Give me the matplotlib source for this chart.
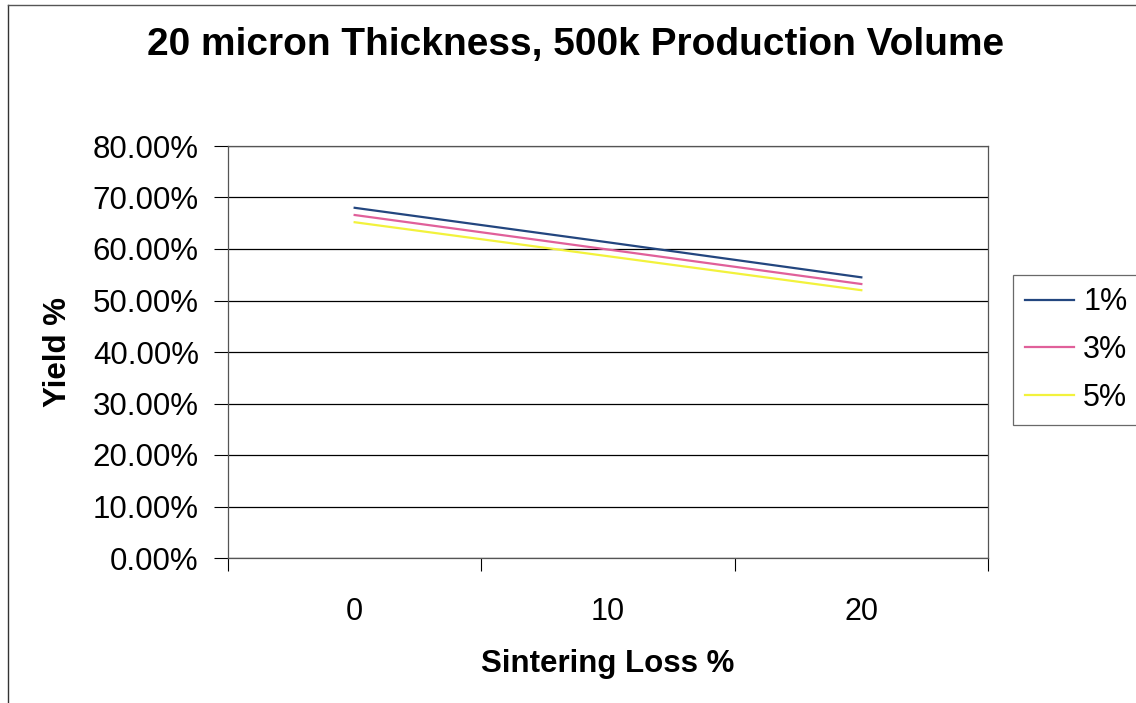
import matplotlib.pyplot as plt
from matplotlib.ticker import FuncFormatter
from matplotlib.lines import Line2D
import numpy as np

plt.rcParams['font.family'] = ['Liberation Sans', 'DejaVu Sans']

# sintering loss categories and yield for each defect rate
sintering_loss = ['0', '10', '20']
series_names = ['1%', '3%', '5%']
yield_1 = [0.680, 0.613, 0.545]
yield_3 = [0.666, 0.599, 0.532]
yield_5 = [0.652, 0.586, 0.520]
colors = ['#23467f', '#e0609a', '#f2f23c']

fig = plt.figure(figsize=(11.36, 7.03), dpi=100)
ax = fig.add_axes([228/1136, 1 - 558/703, 760/1136, 412/703])

xs = np.arange(len(sintering_loss))
for vals, name, c in zip([yield_1, yield_3, yield_5], series_names, colors):
    ax.plot(xs, vals, color=c, lw=1.6, label=name)

ax.set_xlim(-0.5, len(sintering_loss) - 0.5)
ax.set_ylim(0, 0.8)
ax.set_yticks(np.arange(0, 0.81, 0.1))
ax.yaxis.set_major_formatter(FuncFormatter(lambda v, p: '%.2f%%' % (v * 100)))
ax.set_xticks(xs)
ax.set_xticklabels(sintering_loss)
ax.set_xticks(np.arange(-0.5, len(sintering_loss)), minor=True)
ax.tick_params(axis='x', which='major', length=0, pad=28, labelsize=22)
ax.tick_params(axis='x', which='minor', length=9, width=0.8, direction='out')
ax.tick_params(axis='y', length=10, width=0.8, direction='out', pad=11, labelsize=22.5)
ax.grid(axis='y', color='black', lw=0.9)
ax.set_axisbelow(True)
for s in ax.spines.values():
    s.set_color('#555555')
    s.set_linewidth(0.9)

ax.set_ylabel('Yield %', fontsize=22.5, fontweight='bold', labelpad=14)
ax.set_xlabel('Sintering Loss %', fontsize=22.5, fontweight='bold', labelpad=16)
fig.text(576/1136, 1 - 45/703, '20 micron Thickness, 500k Production Volume',
         ha='center', va='center', fontsize=28, fontweight='bold')

leg = ax.legend(loc='upper left', bbox_to_anchor=(1013/1136, 1 - 275/703),
                bbox_transform=fig.transFigure, fontsize=22, frameon=True,
                fancybox=False, handlelength=1.6, handletextpad=0.3,
                labelspacing=0.58, borderpad=0.4, borderaxespad=0)
leg.get_frame().set_edgecolor('#444444')
leg.get_frame().set_linewidth(0.9)

# outer chart border (left and top edges)
fig.add_artist(Line2D([8/1136, 8/1136], [0, 1 - 5/703], color='#333333', lw=1.0))
fig.add_artist(Line2D([8/1136, 1], [1 - 5/703, 1 - 5/703], color='#555555', lw=1.0))

fig.savefig('out.png', dpi=100)
